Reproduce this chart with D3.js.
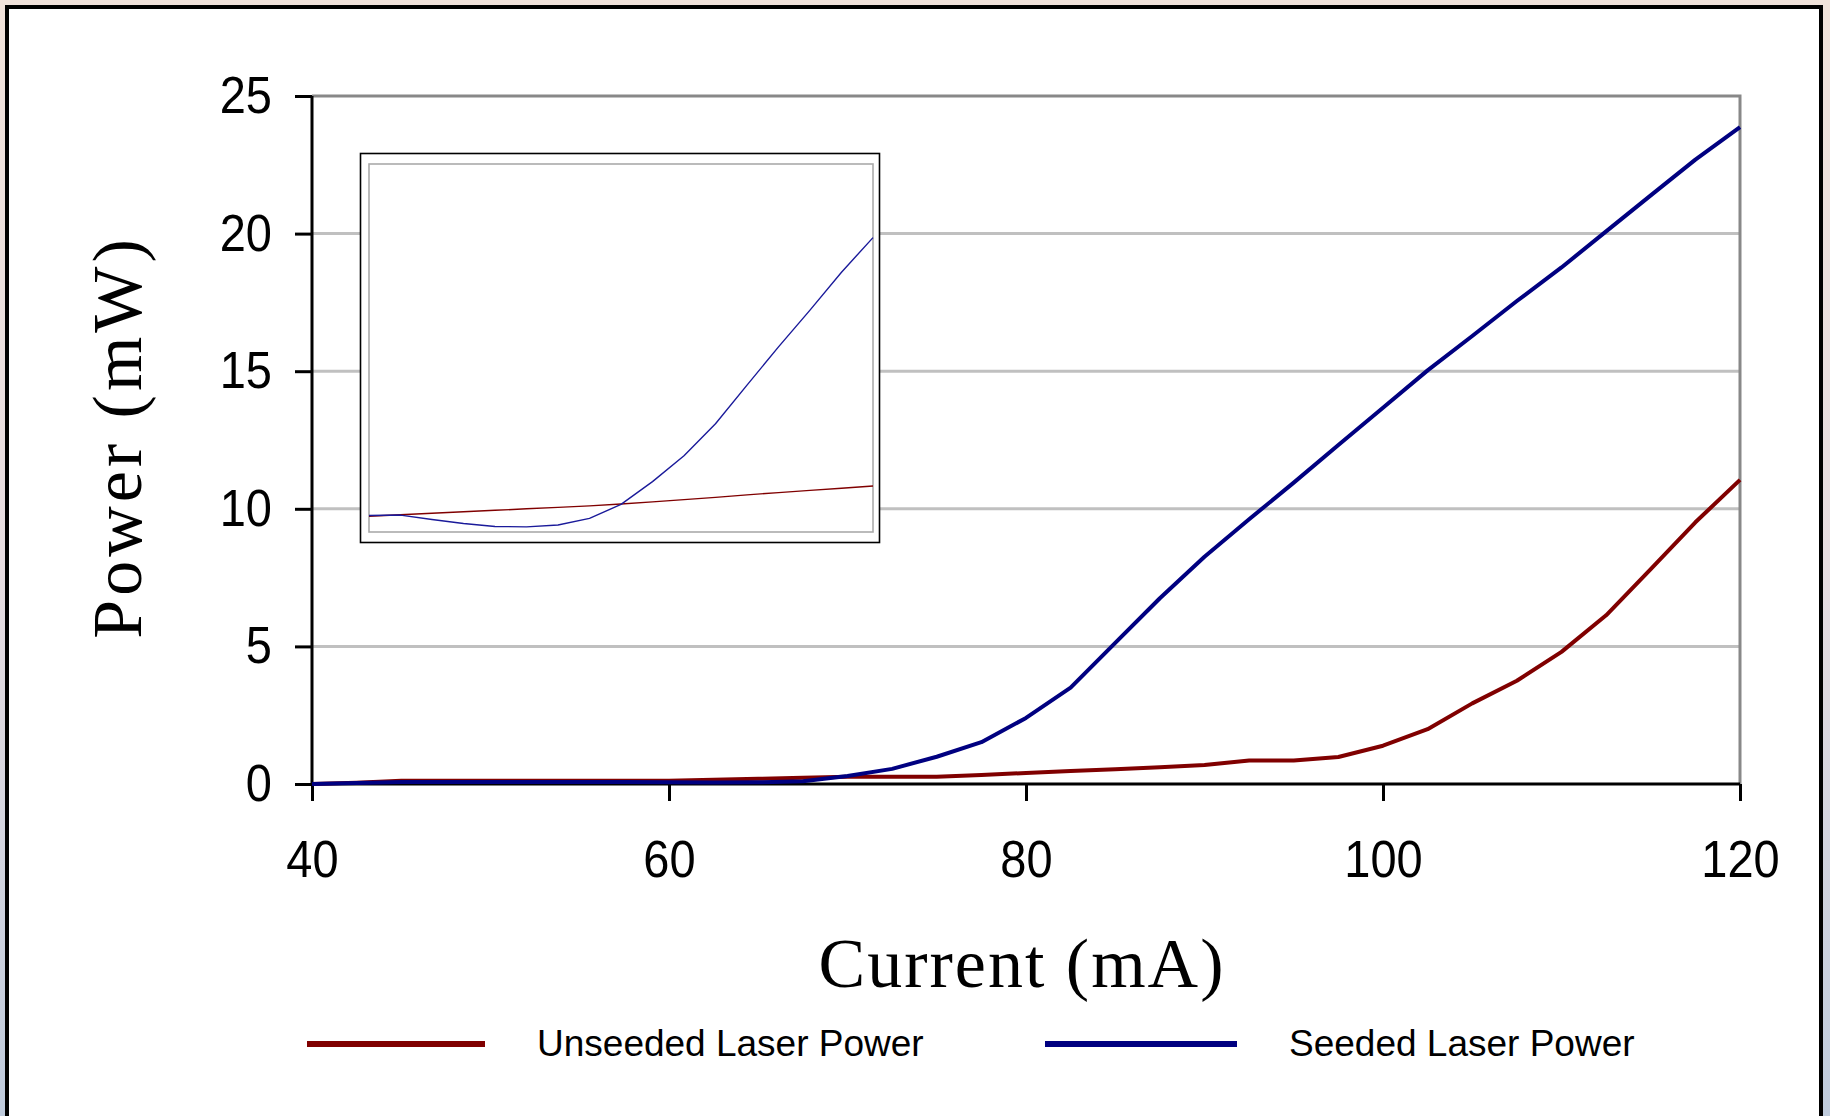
<!DOCTYPE html>
<html>
<head>
<meta charset="utf-8">
<script src="https://cdn.jsdelivr.net/npm/d3@7"></script>
<style>
  html, body { margin: 0; padding: 0; }
  body { width: 1830px; height: 1116px; overflow: hidden;
         background: linear-gradient(to bottom, #f0e2da 0%, #e6dce0 50%, #bfcbdc 100%); }
  svg { display: block; }
</style>
</head>
<body>
<svg id="chart" width="1830" height="1116"></svg>
<script>
// ---------------- data ----------------
const current = [40, 42.5, 45, 47.5, 50, 52.5, 55, 57.5, 60, 62.5, 65, 67.5, 70, 72.5, 75, 77.5,
                 80, 82.5, 85, 87.5, 90, 92.5, 95, 97.5, 100, 102.5, 105, 107.5, 110, 112.5, 115, 117.5, 120];
const unseeded = [0, 0.05, 0.12, 0.12, 0.12, 0.12, 0.12, 0.12, 0.12, 0.15, 0.19, 0.23, 0.26, 0.26, 0.26, 0.33,
                  0.40, 0.47, 0.54, 0.61, 0.69, 0.85, 0.85, 0.98, 1.39, 1.99, 2.93, 3.75, 4.80, 6.13, 7.81, 9.51, 11.05];
const seeded = [0, 0.04, 0.07, 0.07, 0.07, 0.07, 0.07, 0.07, 0.06, 0.05, 0.06, 0.10, 0.29, 0.55, 0.99, 1.52,
                2.40, 3.50, 5.13, 6.75, 8.26, 9.62, 10.95, 12.32, 13.67, 15.03, 16.28, 17.55, 18.77, 20.08, 21.39, 22.69, 23.87];

const xTicks = [40, 60, 80, 100, 120];
const yTicks = [0, 5, 10, 15, 20, 25];

// inset (unlabelled zoom of the low-current region, relative units)
const insetCurrent = [40, 42, 44, 46, 48, 50, 52, 54, 56, 58, 60, 62, 64, 66, 68, 70, 72];
const insetUnseeded = [0.043, 0.047, 0.051, 0.055, 0.059, 0.063, 0.067, 0.071, 0.076, 0.082, 0.088, 0.094,
                       0.101, 0.107, 0.113, 0.119, 0.125];
const insetSeeded = [0.045, 0.046, 0.034, 0.023, 0.015, 0.014, 0.019, 0.037, 0.075, 0.137, 0.207, 0.294,
                     0.399, 0.503, 0.603, 0.706, 0.800];

const legendLabels = ["Unseeded Laser Power", "Seeded Laser Power"];
const RED = "#800000", BLUE = "#000080";

// ---------------- drawing ----------------
const svg = d3.select("#chart");

// outer frame
svg.append("rect").attr("x", 7).attr("y", 7).attr("width", 1814).attr("height", 1200)
  .attr("fill", "#ffffff").attr("stroke", "#000").attr("stroke-width", 4);

const L = 312, R = 1740, T = 96, B = 784;
const x = d3.scaleLinear().domain([40, 120]).range([L, R]);
const y = d3.scaleLinear().domain([0, 25]).range([B, T]);

// gridlines
svg.append("g").selectAll("line").data(yTicks.filter(v => v > 0 && v < 25)).join("line")
  .attr("x1", L).attr("x2", R).attr("y1", d => y(d)).attr("y2", d => y(d))
  .attr("stroke", "#c0c0c0").attr("stroke-width", 3);

// plot border (top / right)
svg.append("path").attr("d", `M${L},${y(25)}H${x(120)}V${y(0)}`)
  .attr("fill", "none").attr("stroke", "#888").attr("stroke-width", 3);

// axes
const yAxis = d3.axisLeft(y).tickValues(yTicks).tickSize(17).tickPadding(23).tickFormat(d3.format("d"));
const gy = svg.append("g").attr("transform", `translate(${L},0)`).call(yAxis);
const xAxis = d3.axisBottom(x).tickValues(xTicks).tickSize(17).tickFormat(d3.format("d"));
const gx = svg.append("g").attr("transform", `translate(0,${B})`).call(xAxis);

[gx, gy].forEach(g => {
  g.select(".domain").attr("stroke", "#000").attr("stroke-width", 3);
  g.selectAll(".tick line").attr("stroke", "#000").attr("stroke-width", 3);
  g.selectAll(".tick text").attr("fill", "#000")
    .attr("font-family", "'Liberation Sans', Arial, sans-serif").attr("font-size", 47);
});
gy.select(".domain").attr("d", `M0,${y(25)}V${y(0)}`);
gx.select(".domain").attr("d", `M${x(40)},0H${x(120)}`);
gy.selectAll(".tick text").attr("transform", "scale(1,1.1)");
gx.selectAll(".tick text").attr("dy", null).attr("y", 93 / 1.1).attr("transform", "scale(1,1.1)");

// data lines
const line = d3.line().x((d, i) => x(current[i])).y(d => y(d));
svg.append("path").datum(unseeded).attr("d", line)
  .attr("fill", "none").attr("stroke", RED).attr("stroke-width", 4).attr("stroke-linejoin", "round");
svg.append("path").datum(seeded).attr("d", line)
  .attr("fill", "none").attr("stroke", BLUE).attr("stroke-width", 4).attr("stroke-linejoin", "round");

// inset
const ig = svg.append("g");
ig.append("rect").attr("x", 360.5).attr("y", 153.5).attr("width", 519).attr("height", 389)
  .attr("fill", "#fff").attr("stroke", "#000").attr("stroke-width", 1.6);
const ix = d3.scaleLinear().domain([40, 72]).range([369, 873]);
const iy = d3.scaleLinear().domain([0, 1]).range([532, 164]);
ig.append("rect").attr("x", 369).attr("y", 164).attr("width", 504).attr("height", 368)
  .attr("fill", "#fff").attr("stroke", "#aaa").attr("stroke-width", 1.6);
const iline = d3.line().x((d, i) => ix(insetCurrent[i])).y(d => iy(d));
ig.append("path").datum(insetUnseeded).attr("d", iline)
  .attr("fill", "none").attr("stroke", RED).attr("stroke-width", 1.4);
ig.append("path").datum(insetSeeded).attr("d", iline)
  .attr("fill", "none").attr("stroke", "#1a1a9a").attr("stroke-width", 1.4).attr("stroke-linejoin", "round");

// axis titles
svg.append("text").text("Power (mW)")
  .attr("transform", "translate(141,437) rotate(-90)")
  .attr("text-anchor", "middle").attr("font-family", "'Liberation Serif', 'Times New Roman', serif")
  .attr("font-size", 70).attr("letter-spacing", 4).attr("fill", "#000");
svg.append("text").text("Current (mA)")
  .attr("x", 1022).attr("y", 987)
  .attr("text-anchor", "middle").attr("font-family", "'Liberation Serif', 'Times New Roman', serif")
  .attr("font-size", 70).attr("letter-spacing", 2).attr("fill", "#000");

// legend
const legend = [
  { label: legendLabels[0], color: RED, x1: 307, x2: 485, tx: 537 },
  { label: legendLabels[1], color: BLUE, x1: 1045, x2: 1237, tx: 1289 }
];
const lg = svg.append("g").selectAll("g").data(legend).join("g");
lg.append("line").attr("x1", d => d.x1).attr("x2", d => d.x2).attr("y1", 1044).attr("y2", 1044)
  .attr("stroke", d => d.color).attr("stroke-width", 6);
lg.append("text").text(d => d.label).attr("x", d => d.tx).attr("y", 1056)
  .attr("font-family", "'Liberation Sans', Arial, sans-serif").attr("font-size", 37).attr("fill", "#000");
</script>
</body>
</html>
